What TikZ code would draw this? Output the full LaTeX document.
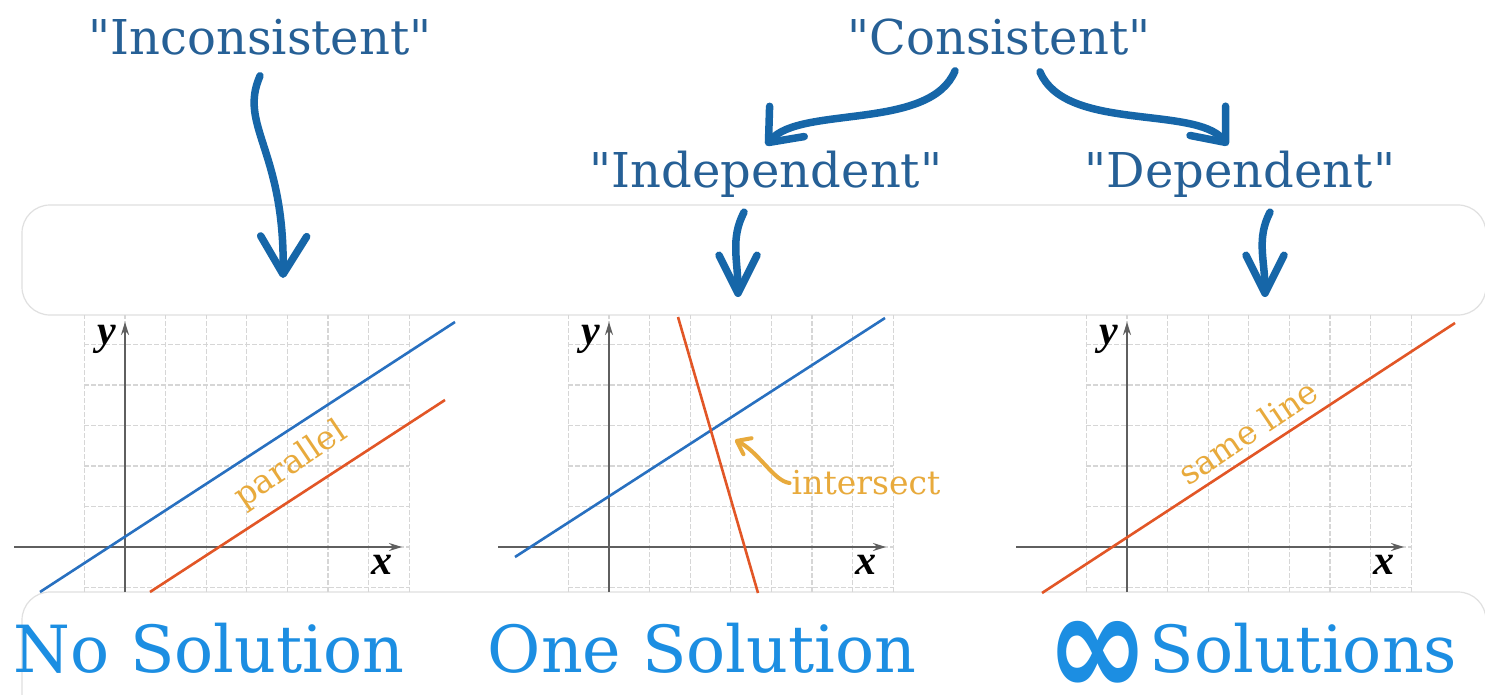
\documentclass[tikz,border=0pt]{standalone}
\usepackage{fontspec}
\setmainfont{DejaVu Serif}[Ligatures=TeXOff]
\newfontfamily\axisfont{Liberation Serif}
\newfontfamily\symbfont{DejaVu Sans}
\usetikzlibrary{arrows.meta}

\definecolor{toptext}{RGB}{38,96,150}
\definecolor{penblue}{RGB}{22,102,168}
\definecolor{soltext}{RGB}{28,142,226}
\definecolor{lineblue}{RGB}{40,112,192}
\definecolor{linered}{RGB}{226,86,38}
\definecolor{notecol}{RGB}{232,170,60}
\definecolor{framegray}{RGB}{224,224,224}
\definecolor{gridgray}{RGB}{214,214,214}
\definecolor{axisgray}{RGB}{95,95,95}

\begin{document}
\begin{tikzpicture}[x=1pt, y=-1pt,
    term/.style={font=\fontsize{48}{56}\selectfont, text=toptext, inner sep=6pt, anchor=base},
    result/.style={font=\fontsize{65}{76}\selectfont, text=soltext, inner sep=6pt, anchor=base},
    frame/.style={draw=framegray, line width=1.2pt, rounded corners=28pt},
    gridline/.style={draw=gridgray, line width=1.3pt, dash pattern=on 5pt off 2pt},
    axisline/.style={draw=axisgray, line width=2pt, -{Stealth[length=13pt, width=8pt]}},
    axislabel/.style={font=\fontsize{42}{46}\axisfont\bfseries\itshape, text=black, inner sep=0pt},
    graphline/.style={line width=2.6pt},
    note/.style={font=\fontsize{33}{38}\selectfont, text=notecol, inner sep=2pt},
    pen/.style={draw=penblue, line width=7.5pt, line cap=round, line join=round},
    bighead/.style={pen, -{Straight Barb[round, length=38pt, width=46pt]}},
    midhead/.style={pen, -{Straight Barb[round, length=28pt, width=46pt]}},
    smallhead/.style={pen, -{Straight Barb[round, length=38pt, width=38pt]}},
    notepen/.style={draw=notecol, line width=4pt, line cap=round, -{Straight Barb[round, length=12pt, width=18pt]}}
]
    % Page and panels
    \fill[white] (0,0) rectangle (1485,695);
    \useasboundingbox (0,0) rectangle (1485,695);
    \draw[frame] (22,205) rectangle (1486,315);
    \draw[frame] (22,592) rectangle (1486,740);

    % Grids and axes
    \foreach \gx in {125,609,1127}{
      \begin{scope}[shift={(\gx,547)}, yscale=-1]
        \foreach \k in {-1,...,7}
            \draw[gridline] (\k*40.6,-45) -- (\k*40.6,232);
        \foreach \k in {-1,...,5}
            \draw[gridline] (-41,\k*40.5) -- (284,\k*40.5);
        \draw[axisline] (-111,0) -- (277,0);
        \draw[axisline] (0,-45) -- (0,225);
        \node[axislabel] (ylab\gx) at (-18,208) {y};
        \node[axislabel] (xlab\gx) at (257,-18) {x};
      \end{scope}
    }

    % No solution
    \begin{scope}[shift={(125,547)}, yscale=-1]
        \draw[graphline, lineblue] (-85,-45) -- (330,225);
        \draw[graphline, linered] (25,-45) -- (320,147);
        \node[note, rotate=34] (para) at (166,82) {parallel};
    \end{scope}

    % One solution
    \begin{scope}[shift={(609,547)}, yscale=-1]
        \draw[graphline, lineblue] (-94,-10) -- (276,229);
        \draw[graphline, linered] (69,230) -- (149,-46);
        \node[note] (sect) at (257,64) {intersect};
        \coordinate (meet) at (126,107);
        \draw[notepen] (sect.west) .. controls +(-16,2) and +(24,-12) .. (meet);
    \end{scope}

    % Infinitely many
    \begin{scope}[shift={(1127,547)}, yscale=-1]
        \draw[graphline, linered] (-85,-46) -- (328,224);
        \node[note, rotate=34] (same) at (121,115) {same line};
    \end{scope}

    % Terms
    \node[term] (incon) at (260,55) {"Inconsistent"};
    \node[term] (con) at (999,55) {"Consistent"};
    \node[term] (indep) at (766,188) {"Independent"};
    \node[term] (dep) at (1240,188) {"Dependent"};

    % Results
    \node[result] (nosol) at (209,672) {No Solution};
    \node[result] (onesol) at (702,672) {One Solution};
    \node[result] (infsol) at (1252,672)
        {\raisebox{-0.37em}{\scalebox{1.9}[2.29]{\symbfont\bfseries ∞}}Solutions};

    % Hand drawn arrows
    \coordinate (g1in) at (283,278);
    \coordinate (g2in) at (738,297);
    \coordinate (g3in) at (1265,297);
    \draw[bighead] ([yshift=-14pt]incon.south) .. controls +(-22,50) and +(2,-128) .. (g1in);
    \draw[midhead] ([xshift=-44pt, yshift=-9pt]con.south) .. controls +(-25,60) and +(35,-40) .. (indep.north);
    \draw[midhead] ([xshift=41pt, yshift=-10pt]con.south) .. controls +(25,60) and +(-33,-40) .. ([xshift=-12pt]dep.north);
    \draw[smallhead] ([xshift=-22pt, yshift=-8pt]indep.south) .. controls +(-14,27) and +(0,-37) .. (g2in);
    \draw[smallhead] ([xshift=30pt, yshift=-8pt]dep.south) .. controls +(-14,27) and +(0,-37) .. (g3in);
\end{tikzpicture}
\end{document}
